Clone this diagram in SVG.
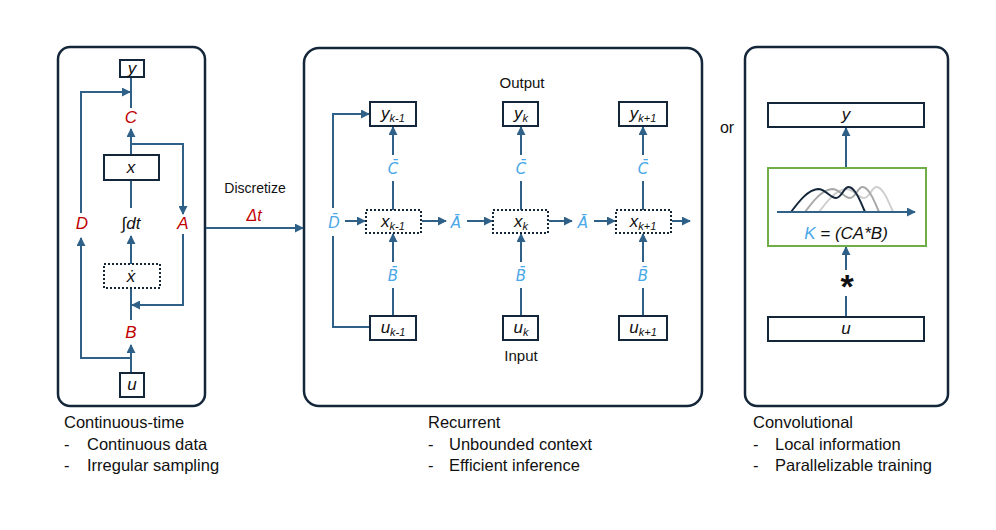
<svg xmlns="http://www.w3.org/2000/svg" width="996" height="530" viewBox="0 0 996 530">
<style>
.panel{fill:#fff;stroke:#14263a;stroke-width:2.5}
.box{fill:#fff;stroke:#14263a;stroke-width:2}
.dot{fill:#fff;stroke:#14263a;stroke-width:2;stroke-dasharray:2 2}
.ln{fill:none;stroke:#2e6088;stroke-width:2}
.arr{fill:none;stroke:#2e6088;stroke-width:2;marker-end:url(#ah)}
text{font-family:"Liberation Sans",Arial,sans-serif;fill:#111}
.v{font-style:italic;font-size:17px;text-anchor:middle}
.red{fill:#c00000}
.blue{fill:#4aa8e8}
.bar{font-family:"DejaVu Sans",sans-serif;font-size:15px}
.sub{font-size:11px}
.mid{text-anchor:middle}
</style>
<defs>
<marker id="ah" viewBox="0 0 10 10" refX="9" refY="5" markerWidth="9" markerHeight="9" markerUnits="userSpaceOnUse" orient="auto">
<path d="M0,0 L10,5 L0,10 z" fill="#2e6088"/>
</marker>
</defs>

<!-- Panels -->
<rect id="panel-continuous" class="panel" x="58" y="47" width="147" height="359" rx="12"/>
<rect id="panel-recurrent" class="panel" x="304" y="48" width="398" height="358" rx="15"/>
<rect id="panel-conv" class="panel" x="745" y="47" width="203" height="359" rx="12"/>

<g id="connectors">
  <!-- panel 1 -->
  <path class="arr" d="M81,213 V92 H130"/>
  <line class="ln" x1="131" y1="108" x2="131" y2="77"/>
  <line class="arr" x1="131" y1="155" x2="131" y2="129"/>
  <path class="arr" d="M131,144 H183 V214"/>
  <line class="ln" x1="131" y1="180" x2="131" y2="208"/>
  <line class="arr" x1="131" y1="264" x2="131" y2="236"/>
  <path class="arr" d="M183,234 V305 H132"/>
  <line class="ln" x1="131" y1="288" x2="131" y2="320"/>
  <line class="arr" x1="131" y1="373" x2="131" y2="345"/>
  <path class="arr" d="M131,358 H81 V238"/>
  <!-- discretize -->
  <line class="arr" x1="206" y1="228" x2="303" y2="228"/>
  <!-- panel 2 -->
  <line class="arr" x1="393" y1="155" x2="393" y2="127"/>
  <line class="ln" x1="393" y1="210" x2="393" y2="181"/>
  <line class="arr" x1="521" y1="155" x2="521" y2="127"/>
  <line class="ln" x1="521" y1="210" x2="521" y2="181"/>
  <line class="arr" x1="643" y1="155" x2="643" y2="127"/>
  <line class="ln" x1="643" y1="210" x2="643" y2="181"/>
  <line class="ln" x1="393" y1="316" x2="393" y2="288"/>
  <line class="arr" x1="393" y1="262" x2="393" y2="234"/>
  <line class="ln" x1="521" y1="316" x2="521" y2="288"/>
  <line class="arr" x1="521" y1="262" x2="521" y2="234"/>
  <line class="ln" x1="643" y1="316" x2="643" y2="288"/>
  <line class="arr" x1="643" y1="262" x2="643" y2="234"/>
  <line class="arr" x1="345" y1="221" x2="365" y2="221"/>
  <line class="arr" x1="422" y1="221" x2="446" y2="221"/>
  <line class="arr" x1="467" y1="221" x2="492" y2="221"/>
  <line class="arr" x1="549" y1="221" x2="572" y2="221"/>
  <line class="arr" x1="594" y1="221" x2="615" y2="221"/>
  <line class="arr" x1="672" y1="221" x2="690" y2="221"/>
  <path class="arr" d="M333,208 V114 H369"/>
  <path class="ln" d="M333,236 V327 H370"/>
  <!-- panel 3 -->
  <line class="arr" x1="846" y1="168" x2="846" y2="128"/>
  <line class="ln" x1="846" y1="317" x2="846" y2="296"/>
  <line class="arr" x1="846" y1="270" x2="846" y2="247"/>
</g>

<!-- Panel 1 nodes -->
<g id="node-y"><rect class="box" x="120" y="60" width="24" height="17"/><text class="v" x="132" y="74">y</text></g>
<g id="label-C"><text class="v red" x="131" y="123">C</text></g>
<g id="node-x"><rect class="box" x="104" y="155" width="55" height="25"/><text class="v" x="131" y="173">x</text></g>
<g id="label-D"><text class="v red" x="82" y="229">D</text></g>
<g id="label-int"><text class="v" x="131" y="229">∫dt</text></g>
<g id="label-A"><text class="v red" x="183" y="229">A</text></g>
<g id="node-xdot"><rect class="dot" x="104" y="264" width="56" height="24"/><text class="v" x="131" y="282">ẋ</text></g>
<g id="label-B"><text class="v red" x="131" y="338">B</text></g>
<g id="node-u"><rect class="box" x="120" y="373" width="24" height="24"/><text class="v" x="132" y="390">u</text></g>

<!-- Discretize -->
<g id="label-discretize">
<text class="mid" x="255" y="193" font-size="14">Discretize</text>
<text class="mid red" x="254" y="221" font-size="16" font-style="italic">Δt</text>
</g>

<!-- Panel 2 nodes -->
<text class="mid" x="522" y="88" font-size="15">Output</text>
<text class="mid" x="521" y="361" font-size="15">Input</text>
<g id="node-yk-1"><rect class="box" x="370" y="102" width="46" height="24"/><text class="v" x="393" y="119">y<tspan class="sub" dy="3">k-1</tspan></text></g>
<g id="node-yk"><rect class="box" x="503" y="102" width="35" height="24"/><text class="v" x="521" y="119">y<tspan class="sub" dy="3">k</tspan></text></g>
<g id="node-yk+1"><rect class="box" x="619" y="102" width="48" height="24"/><text class="v" x="643" y="119">y<tspan class="sub" dy="3">k+1</tspan></text></g>

<text class="v blue bar" x="393" y="174">C̄</text>
<text class="v blue bar" x="521" y="174">C̄</text>
<text class="v blue bar" x="643" y="174">C̄</text>

<g id="node-xk-1"><rect class="dot" x="366" y="210" width="55" height="23"/><text class="v" x="393" y="227" font-style="normal">x<tspan class="sub" dy="3" font-style="italic">k-1</tspan></text></g>
<g id="node-xk"><rect class="dot" x="493" y="210" width="55" height="23"/><text class="v" x="521" y="227">x<tspan class="sub" dy="3">k</tspan></text></g>
<g id="node-xk+1"><rect class="dot" x="616" y="210" width="55" height="23"/><text class="v" x="643" y="227">x<tspan class="sub" dy="3">k+1</tspan></text></g>

<text class="v blue bar" x="334" y="228">D̄</text>
<text class="v blue bar" x="456" y="228">Ā</text>
<text class="v blue bar" x="583" y="228">Ā</text>

<text class="v blue bar" x="393" y="281">B̄</text>
<text class="v blue bar" x="521" y="281">B̄</text>
<text class="v blue bar" x="643" y="281">B̄</text>

<g id="node-uk-1"><rect class="box" x="370" y="316" width="46" height="24"/><text class="v" x="393" y="333">u<tspan class="sub" dy="3">k-1</tspan></text></g>
<g id="node-uk"><rect class="box" x="503" y="316" width="35" height="24"/><text class="v" x="521" y="333">u<tspan class="sub" dy="3">k</tspan></text></g>
<g id="node-uk+1"><rect class="box" x="619" y="316" width="48" height="24"/><text class="v" x="643" y="333">u<tspan class="sub" dy="3">k+1</tspan></text></g>

<text x="727" y="133" font-size="16" class="mid">or</text>

<!-- Panel 3 nodes -->
<g id="node-y-conv"><rect class="box" x="768" y="103" width="156" height="24"/><text class="v" x="846" y="120">y</text></g>
<g id="node-kernel">
<rect x="768" y="168" width="158" height="78" fill="#fff" stroke="#70ad47" stroke-width="2"/>
<path d="M791,212 C800,200 808,190 818,189 C826,189 830,198 836,198 C842,198 844,186 849,187 C855,188 860,200 865,212" fill="none" stroke="#cfcfcf" stroke-width="2" transform="translate(28,0)"/>
<path d="M791,212 C800,200 808,190 818,189 C826,189 830,198 836,198 C842,198 844,186 849,187 C855,188 860,200 865,212" fill="none" stroke="#a8a8a8" stroke-width="2" transform="translate(14,0)"/>
<path d="M791,212 C800,200 808,190 818,189 C826,189 830,198 836,198 C842,198 844,186 849,187 C855,188 860,200 865,212" fill="none" stroke="#14263a" stroke-width="2"/>
<line class="arr" x1="777" y1="212" x2="915" y2="212"/>
<text class="v" x="846" y="239" font-size="16"><tspan class="blue">K</tspan> = (CA*B)</text>
</g>
<g id="label-conv"><text class="mid" x="847" y="298" font-size="34" font-weight="bold">*</text></g>
<g id="node-u-conv"><rect class="box" x="768" y="317" width="156" height="24"/><text class="v" x="846" y="334">u</text></g>

<!-- Captions -->
<g id="caption-continuous">
<text x="64" y="428" font-size="16.5">Continuous-time</text>
<text x="64" y="450" font-size="16.5">-</text><text x="87" y="450" font-size="16.5">Continuous data</text>
<text x="64" y="471" font-size="16.5">-</text><text x="87" y="471" font-size="16.5">Irregular sampling</text>
</g>
<g id="caption-recurrent">
<text x="428" y="428" font-size="16.5">Recurrent</text>
<text x="428" y="450" font-size="16.5">-</text><text x="449" y="450" font-size="16.5">Unbounded context</text>
<text x="428" y="471" font-size="16.5">-</text><text x="449" y="471" font-size="16.5">Efficient inference</text>
</g>
<g id="caption-conv">
<text x="753" y="428" font-size="16.5">Convolutional</text>
<text x="753" y="450" font-size="16.5">-</text><text x="775" y="450" font-size="16.5">Local information</text>
<text x="753" y="471" font-size="16.5">-</text><text x="775" y="471" font-size="16.5">Parallelizable training</text>
</g>
</svg>
